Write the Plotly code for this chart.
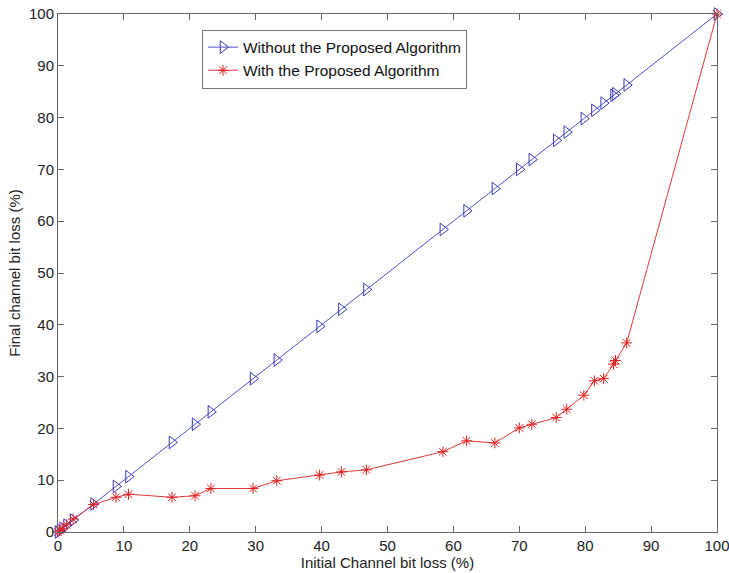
import plotly.graph_objects as go

x_initial = [0, 0.3, 0.7, 1.3, 2.3, 5.4, 8.8, 10.7, 17.3, 20.8, 23.2, 29.6, 33.2, 39.7,
             43.0, 46.8, 58.4, 62.0, 66.3, 70.0, 71.9, 75.6, 77.2, 79.8, 81.4, 82.8,
             84.3, 84.6, 86.3, 100]
y_without = list(x_initial)
y_with = [0, 0.3, 0.7, 1.4, 2.5, 5.3, 6.7, 7.3, 6.7, 7.0, 8.4, 8.4, 9.9, 11.0,
          11.6, 12.0, 15.5, 17.6, 17.2, 20.1, 20.8, 22.1, 23.7, 26.4, 29.2, 29.6,
          32.4, 33.1, 36.5, 100]

FONT = "Arial, Liberation Sans, sans-serif"

fig = go.Figure()
fig.add_trace(go.Scatter(
    x=x_initial, y=y_without, mode="lines+markers",
    name="Without the Proposed Algorithm",
    line=dict(color="#5050c8", width=1),
    marker=dict(symbol="triangle-right-open", size=11, color="#3a3ac0", line=dict(width=1)),
    cliponaxis=False,
))
fig.add_trace(go.Scatter(
    x=x_initial, y=y_with, mode="lines+markers",
    name="With the Proposed Algorithm",
    line=dict(color="#e03838", width=1),
    marker=dict(symbol="asterisk-open", size=9, color="#e02020", line=dict(width=1, color="#e02020")),
    cliponaxis=False,
))

axis_common = dict(
    range=[0, 100], dtick=10, showgrid=False, zeroline=False,
    showline=True, linecolor="#666666", linewidth=1, mirror="ticks",
    ticks="inside", ticklen=6, tickcolor="#666666", automargin=False,
    ticklabeloverflow="allow",
    tickfont=dict(family=FONT, size=15, color="#222222"),
)
fig.update_xaxes(**axis_common, title=dict(text="Initial Channel bit loss (%)",
                 font=dict(family=FONT, size=15, color="#222222"), standoff=4))
fig.update_yaxes(**axis_common, title=dict(text="Final channel bit loss (%)",
                 font=dict(family=FONT, size=15, color="#222222"), standoff=4))

fig.update_layout(
    width=729, height=573,
    margin=dict(l=58, r=12, t=14, b=41),
    paper_bgcolor="white", plot_bgcolor="white",
    showlegend=True,
    legend=dict(x=0.2185, y=0.97, xanchor="left", yanchor="top",
                bordercolor="#777777", borderwidth=1, bgcolor="white",
                font=dict(family=FONT, size=15.5, color="#111111"),
                tracegroupgap=0, itemwidth=30),
)
fig.write_html("out.html")
